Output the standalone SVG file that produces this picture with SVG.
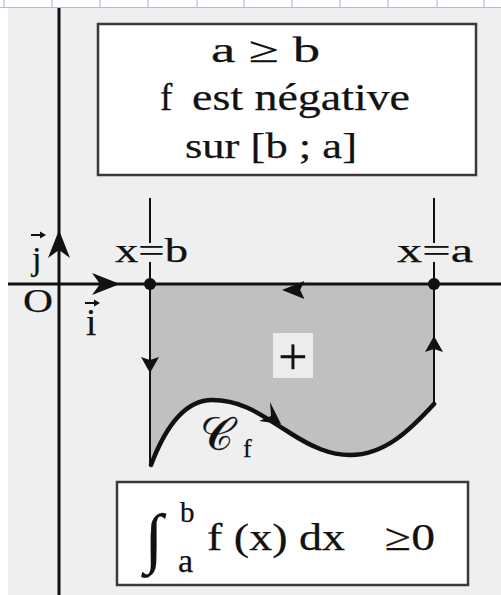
<svg xmlns="http://www.w3.org/2000/svg" width="501" height="595" viewBox="0 0 501 595">
<style>
.t{font-family:"Liberation Serif","DejaVu Serif",serif;fill:#111;stroke:#111;stroke-width:0.25}
.ax{stroke:#111;stroke-width:3;fill:none}
.ln{stroke:#111;stroke-width:2;fill:none}
.box{fill:#fff;stroke:#3a3a3a;stroke-width:2.5}
.grid{stroke:#9cc3ef;stroke-width:1.2}
</style>
<defs>
<path id="stealth" d="M0,0 L-28,-11 L-20,0 L-28,11 Z" fill="#111"/>
<path id="tri" d="M0,0 L-16,-9 L-13,0 L-16,9 Z" fill="#111"/>
</defs>
<rect width="501" height="595" fill="#fff"/>
<rect x="8" y="8" width="493" height="587" fill="#efefef"/>
<g id="grid">
<line class="grid" x1="0" y1="7.5" x2="501" y2="7.5"/>
<line class="grid" x1="4" y1="0" x2="4" y2="8"/>
<line class="grid" x1="52" y1="0" x2="52" y2="8"/>
<line class="grid" x1="100" y1="0" x2="100" y2="8"/>
<line class="grid" x1="148" y1="0" x2="148" y2="8"/>
<line class="grid" x1="197" y1="0" x2="197" y2="8"/>
<line class="grid" x1="244" y1="0" x2="244" y2="8"/>
<line class="grid" x1="292" y1="0" x2="292" y2="8"/>
<line class="grid" x1="340" y1="0" x2="340" y2="8"/>
<line class="grid" x1="388" y1="0" x2="388" y2="8"/>
<line class="grid" x1="437" y1="0" x2="437" y2="8"/>
<line class="grid" x1="484" y1="0" x2="484" y2="8"/>
</g>
<g id="region">
<path d="M150,284 L434,284 L434,404 C410,430 385,455 350,455 C330,455 312,447 290,433 C265,418 245,400 212,400 C188,400 168,420 151,465 L150,465 Z" fill="#c0c0c0"/>
<rect x="273" y="333" width="40" height="45" fill="#ececec"/>
<text class="t" x="293" y="374" font-size="52" text-anchor="middle" stroke-width="0.8">+</text>
</g>
<g id="axes">
<line class="ax" x1="59" y1="8" x2="59" y2="595" stroke-width="3.5"/>
<line class="ax" x1="8" y1="284" x2="501" y2="284"/>
<use href="#stealth" transform="translate(59,230) rotate(-90)"/>
<use href="#stealth" transform="translate(120,284)"/>
<text class="t" x="23" y="312" font-size="33" textLength="30" lengthAdjust="spacingAndGlyphs">O</text>
<text class="t" x="32" y="270" font-size="34">j</text>
<line class="ln" x1="31" y1="235" x2="44" y2="235" stroke-width="1.5"/>
<path d="M46,235 L40,231.5 L40,238.5 Z" fill="#111"/>
<text class="t" x="86" y="335" font-size="37">i</text>
<line class="ln" x1="85" y1="303" x2="98" y2="303" stroke-width="1.5"/>
<path d="M100,303 L94,299.5 L94,306.5 Z" fill="#111"/>
</g>
<g id="connectors">
<line class="ln" x1="150" y1="198" x2="150" y2="243"/>
<line class="ln" x1="150" y1="262" x2="150" y2="465"/>
<line class="ln" x1="434" y1="198" x2="434" y2="243"/>
<line class="ln" x1="434" y1="262" x2="434" y2="404"/>
<path d="M151,465 C168,420 188,400 212,400 C245,400 265,418 290,433 C312,447 330,455 350,455 C385,455 410,430 434,404" fill="none" stroke="#111" stroke-width="4.5" stroke-linecap="round"/>
<use href="#tri" transform="translate(282,290) rotate(180) scale(1.4,1)"/>
<use href="#tri" transform="translate(150,373) rotate(90)"/>
<use href="#tri" transform="translate(434,336) rotate(-90)"/>
<path d="M281,424 L270,402 L271,416 L259,421 Z" fill="#111"/>
</g>
<g id="point-b">
<circle cx="150" cy="284" r="6" fill="#111"/>
<text class="t" x="115" y="262" font-size="34" textLength="73" lengthAdjust="spacingAndGlyphs">x=b</text>
</g>
<g id="point-a">
<circle cx="434" cy="284" r="6" fill="#111"/>
<text class="t" x="397" y="262" font-size="34" textLength="76" lengthAdjust="spacingAndGlyphs">x=a</text>
</g>
<g id="curve-label">
<text x="200" y="450" font-size="46" font-family="'DejaVu Sans','Noto Sans',serif" fill="#111" stroke="#111" stroke-width="0.3">𝒞</text>
<text class="t" x="243" y="457" font-size="26">f</text>
</g>
<g id="box-top">
<rect class="box" x="98" y="24" width="378" height="151"/>
<text class="t" x="211" y="62" font-size="36" textLength="109" lengthAdjust="spacingAndGlyphs">a  ≥  b</text>
<text class="t" x="160" y="110" font-size="37">f</text>
<text class="t" x="192" y="110" font-size="37" textLength="218" lengthAdjust="spacingAndGlyphs">est négative</text>
<text class="t" x="185" y="158" font-size="36" textLength="172" lengthAdjust="spacingAndGlyphs">sur [b ; a]</text>
</g>
<g id="box-bottom">
<rect class="box" x="117" y="482" width="351" height="103"/>
<text class="t" x="145" y="560" font-size="66">∫</text>
<text class="t" x="180" y="522" font-size="29">b</text>
<text class="t" x="178" y="572" font-size="34">a</text>
<text class="t" x="207" y="550" font-size="38" textLength="138" lengthAdjust="spacingAndGlyphs">f (x) dx</text>
<text class="t" x="385" y="550" font-size="38" textLength="50" lengthAdjust="spacingAndGlyphs">≥0</text>
</g>
</svg>
